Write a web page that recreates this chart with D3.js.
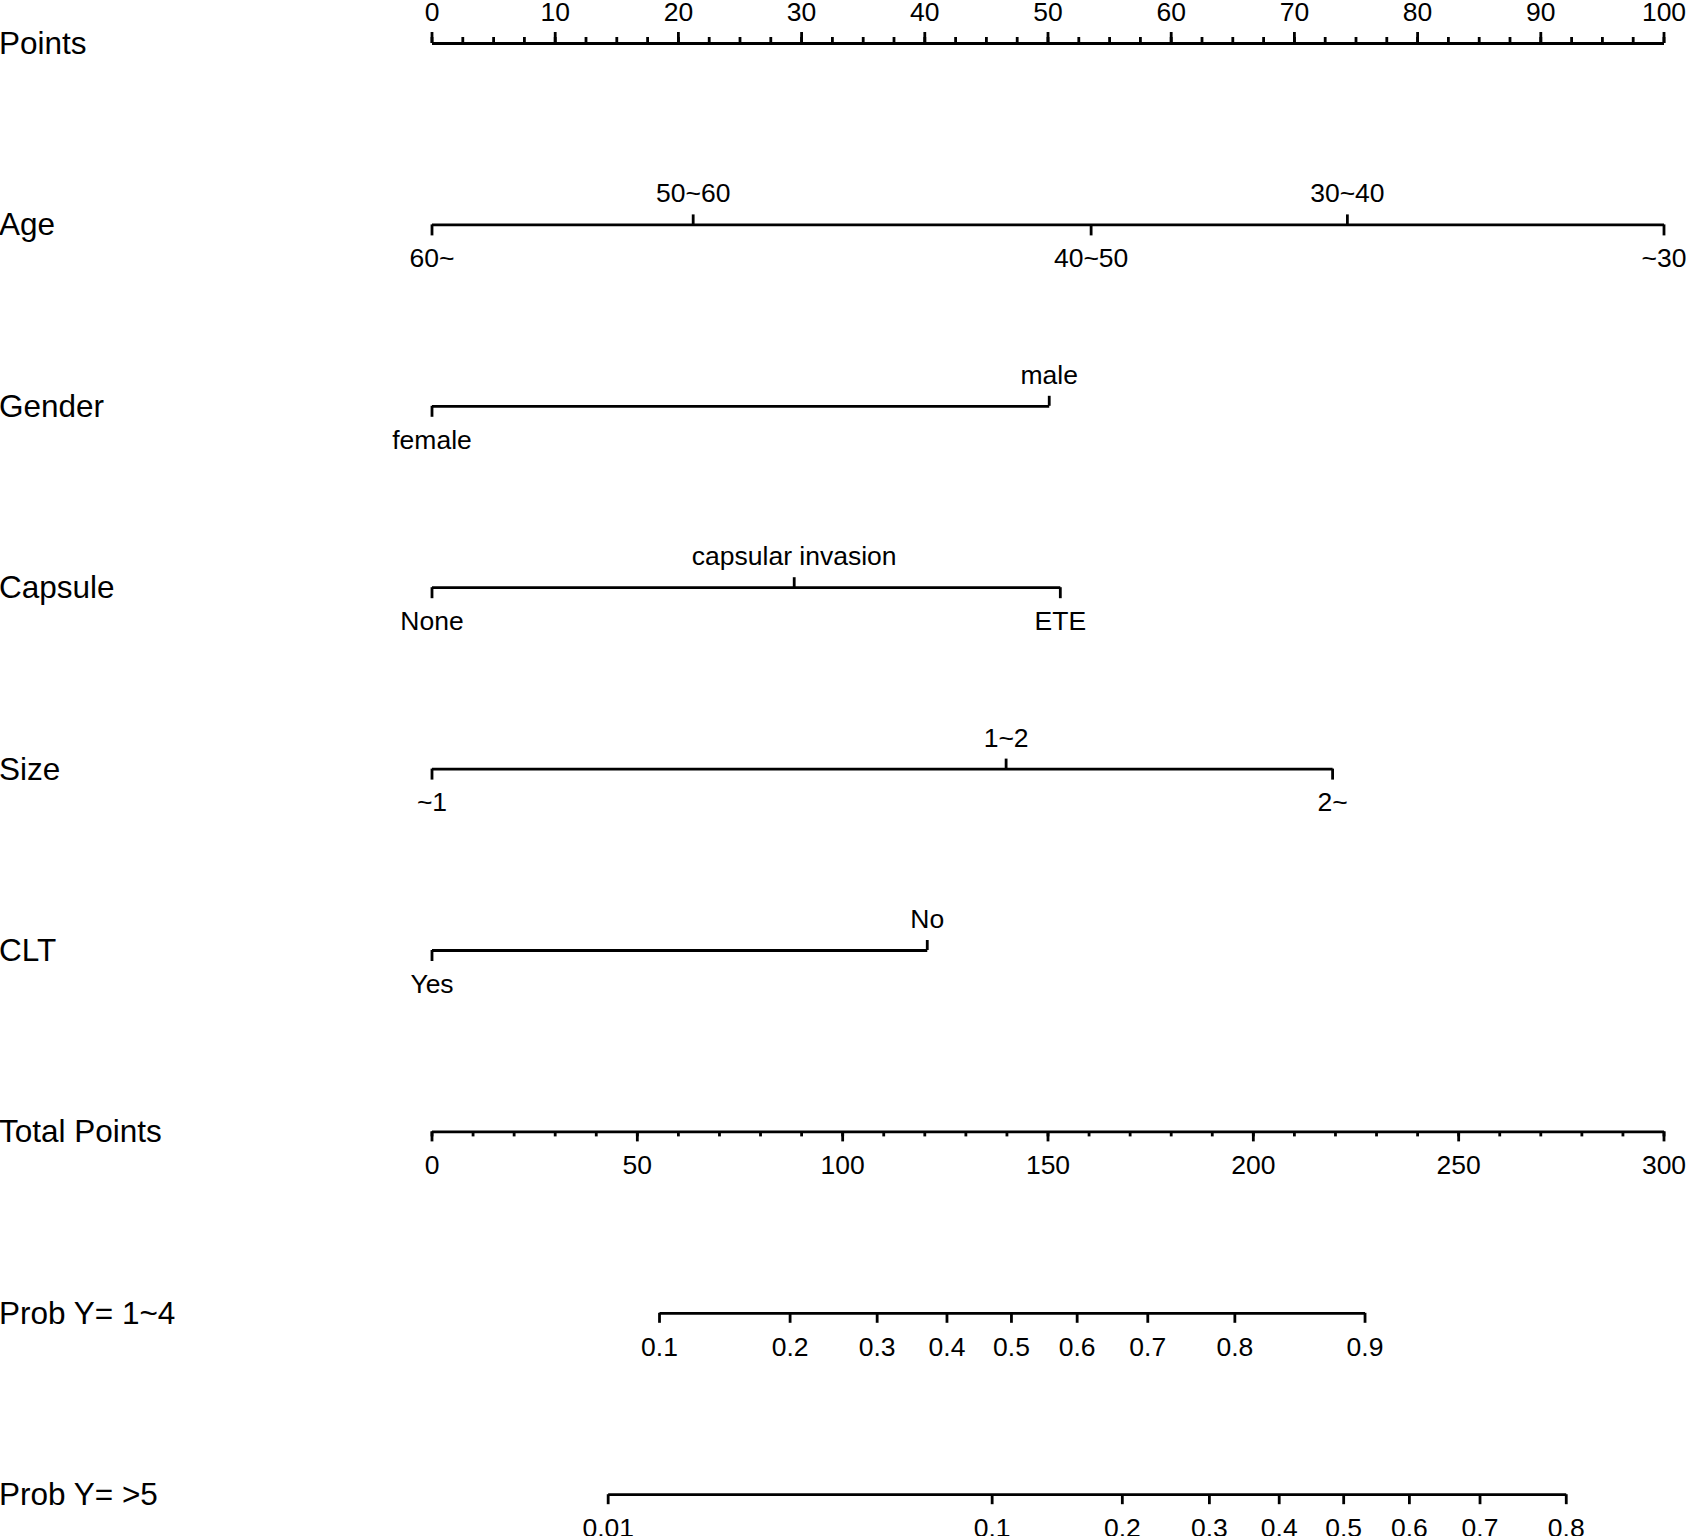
<!DOCTYPE html>
<html lang="en">
  <head>
    <meta charset="utf-8">
    <title>nomogram</title>
    <script src="https://d3js.org/d3.v7.min.js"></script>
    <style>
      body { margin: 0; background: white; }
      text { font-family: "Liberation Sans", Arial, sans-serif; fill: black; }
    </style>
  </head>

  <body>

  <script>

// values (points scale 0-100, total points 0-300)

  var rowNames = ["Points", "Age", "Gender", "Capsule", "Size", "CLT",
      "Total Points", "Prob Y= 1~4", "Prob Y= >5"];

  var pointsTicks = [0, 10, 20, 30, 40, 50, 60, 70, 80, 90, 100];

  var ageLevels = ["60~", "50~60", "40~50", "30~40", "~30"];
  var agePoints = [0, 21.2, 53.5, 74.3, 100];

  var genderLevels = ["female", "male"];
  var genderPoints = [0, 50.1];

  var capsuleLevels = ["None", "capsular invasion", "ETE"];
  var capsulePoints = [0, 29.4, 51.0];

  var sizeLevels = ["~1", "1~2", "2~"];
  var sizePoints = [0, 46.6, 73.1];

  var cltLevels = ["Yes", "No"];
  var cltPoints = [0, 40.2];

  var totalTicks = [0, 50, 100, 150, 200, 250, 300];

  var prob14Labels = ["0.1", "0.2", "0.3", "0.4", "0.5", "0.6", "0.7", "0.8", "0.9"];
  var prob14Total = [55.4, 87.2, 108.4, 125.4, 141.1, 157.1, 174.3, 195.5, 227.2];

  var prob5Labels = ["0.01", "0.1", "0.2", "0.3", "0.4", "0.5", "0.6", "0.7", "0.8"];
  var prob5Total = [42.9, 136.4, 168.1, 189.3, 206.3, 222.0, 238.0, 255.2, 276.2];

  var variables = [
    {levels: ageLevels, points: agePoints},
    {levels: genderLevels, points: genderPoints},
    {levels: capsuleLevels, points: capsulePoints},
    {levels: sizeLevels, points: sizePoints},
    {levels: cltLevels, points: cltPoints}
  ];

// layout

  var w = 1686;
  var h = 1536;
  var x0 = 431.5, x1 = 1663.5;
  var firstY = 43, step = 181.4;
  var lw = 2.8;
  var tickFont = 26.5, labelFont = 31.5;

  var svg = d3.select("body")
    .append("svg")
      .attr("width", w)
      .attr("height", h);

  var xPoints = d3.scaleLinear().domain([0, 100]).range([x0, x1]);
  var xTotal = d3.scaleLinear().domain([0, 300]).range([x0, x1]);

  var rowY = i => firstY + i * step;

  // row names on the left
  svg.selectAll("text.rowname")
      .data(rowNames)
    .enter().append("text")
      .attr("class", "rowname")
      .attr("x", -1)
      .attr("y", (d, i) => rowY(i) + 11)
      .style("font-size", labelFont + "px")
      .text(d => d);

  function styleAxis(g, hideText) {
    g.attr("font-family", null).attr("font-size", null);
    g.selectAll("path.domain").attr("stroke", "black").attr("stroke-width", lw);
    g.selectAll(".tick line").attr("stroke", "black").attr("stroke-width", lw);
    g.selectAll(".tick text")
        .style("font-size", tickFont + "px")
        .attr("fill", "black");
    if (hideText) g.selectAll(".tick text").remove();
  }

  // Points axis (labels above)
  svg.append("g")
      .attr("transform", `translate(0, ${rowY(0)})`)
      .call(d3.axisTop(xPoints).tickValues(d3.range(0, 100.01, 2.5))
          .tickSize(6).tickSizeOuter(0).tickFormat(""))
      .call(g => styleAxis(g, true));

  svg.append("g")
      .attr("transform", `translate(0, ${rowY(0)})`)
      .call(d3.axisTop(xPoints).tickValues(pointsTicks)
          .tickSize(11).tickSizeOuter(0).tickPadding(11)
          .tickFormat(d3.format("d")))
      .call(g => styleAxis(g, false))
      .select("path.domain").remove();

  // categorical variables: labels alternate below / above in sorted order
  variables.forEach(function(v, i) {
    var y = rowY(i + 1);
    var lo = d3.min(v.points), hi = d3.max(v.points);
    var sc = d3.scaleLinear().domain([lo, hi]).range([xPoints(lo), xPoints(hi)]);
    var order = d3.range(v.points.length).sort((a, b) => v.points[a] - v.points[b]);
    var below = order.filter((k, j) => j % 2 === 0);
    var above = order.filter((k, j) => j % 2 === 1);
    var lab = {};
    v.points.forEach((p, k) => lab[p] = v.levels[k]);

    svg.append("g")
        .attr("transform", `translate(0, ${y})`)
        .call(d3.axisBottom(sc).tickValues(below.map(k => v.points[k]))
            .tickSize(11).tickSizeOuter(0).tickPadding(13)
            .tickFormat(d => lab[d]))
        .call(g => styleAxis(g, false));

    svg.append("g")
        .attr("transform", `translate(0, ${y})`)
        .call(d3.axisTop(sc).tickValues(above.map(k => v.points[k]))
            .tickSize(10).tickSizeOuter(0).tickPadding(12)
            .tickFormat(d => lab[d]))
        .call(g => styleAxis(g, false))
        .select("path.domain").remove();
  });

  // Total Points axis
  svg.append("g")
      .attr("transform", `translate(0, ${rowY(6)})`)
      .call(d3.axisBottom(xTotal).tickValues(d3.range(0, 300.01, 10))
          .tickSize(5).tickSizeOuter(0).tickFormat(""))
      .call(g => styleAxis(g, true));

  svg.append("g")
      .attr("transform", `translate(0, ${rowY(6)})`)
      .call(d3.axisBottom(xTotal).tickValues(totalTicks)
          .tickSize(10).tickSizeOuter(0).tickPadding(14)
          .tickFormat(d3.format("d")))
      .call(g => styleAxis(g, false))
      .select("path.domain").remove();

  // probability axes, placed by their total-points position
  [[prob14Labels, prob14Total], [prob5Labels, prob5Total]].forEach(function(p, i) {
    var lo = d3.min(p[1]), hi = d3.max(p[1]);
    var sc = d3.scaleLinear().domain([lo, hi]).range([xTotal(lo), xTotal(hi)]);
    var lab = {};
    p[1].forEach((t, k) => lab[t] = p[0][k]);
    svg.append("g")
        .attr("transform", `translate(0, ${rowY(7 + i)})`)
        .call(d3.axisBottom(sc).tickValues(p[1])
            .tickSize(10).tickSizeOuter(0).tickPadding(14)
            .tickFormat(d => lab[d]))
        .call(g => styleAxis(g, false));
  });

    </script>

  </body>

</html>
